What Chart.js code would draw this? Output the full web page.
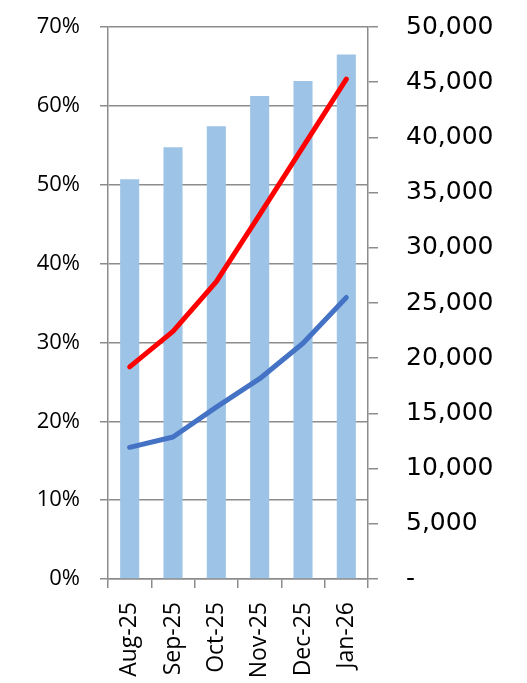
<!DOCTYPE html>
<html>
<head>
<meta charset="utf-8">
<script src="https://cdn.jsdelivr.net/npm/chart.js@4"></script>
<style>
    body { margin: 0; background: #fff; }
    #wrap { width: 527px; height: 683px; }
</style>
</head>
<body>
<div id="wrap"><canvas id="chart"></canvas></div>
<script>
// Datos del gráfico
const months = ['Aug-25', 'Sep-25', 'Oct-25', 'Nov-25', 'Dec-25', 'Jan-26'];
const barValues = [36200, 39100, 41000, 43750, 45100, 47500];
const redPct = [26.9, 31.4, 37.7, 46.2, 54.8, 63.4];
const bluePct = [16.7, 18.0, 21.8, 25.4, 29.9, 35.7];

const leftTicks = [0, 10, 20, 30, 40, 50, 60, 70];
const rightTicks = [0, 5000, 10000, 15000, 20000, 25000, 30000, 35000, 40000, 45000, 50000];

const axisColor = '#8c8c8c';

function formatNumber(value) {
    if (value === 0) return '-';
    return new Intl.NumberFormat('en-US').format(value);
}

// Quitar el relleno automático que añaden las etiquetas
function fixVertical(width) {
    return function(scale) {
        scale.width = width;
        scale.paddingTop = 0;
        scale.paddingBottom = 0;
    };
}

const ctx = document.getElementById('chart');

new Chart(ctx, {
    type: 'bar',
    data: {
        labels: months,
        datasets: [
            {
                type: 'line',
                label: 'Red',
                data: redPct,
                yAxisID: 'y',
                borderColor: '#ff0000',
                borderWidth: 5,
                borderCapStyle: 'round',
                borderJoinStyle: 'round',
                pointRadius: 0,
                tension: 0,
                order: 1
            },
            {
                type: 'line',
                label: 'Blue',
                data: bluePct,
                yAxisID: 'y',
                borderColor: '#4472c4',
                borderWidth: 5,
                borderCapStyle: 'round',
                borderJoinStyle: 'round',
                pointRadius: 0,
                tension: 0,
                order: 2
            },
            {
                label: 'Bars',
                data: barValues,
                yAxisID: 'y1',
                backgroundColor: '#9dc3e6',
                categoryPercentage: 1,
                barPercentage: 0.44,
                order: 3
            }
        ]
    },
    options: {
        responsive: true,
        maintainAspectRatio: false,
        animation: false,
        layout: {
            padding: { top: 27, left: 0, right: 0, bottom: 0 }
        },
        plugins: {
            legend: { display: false },
            tooltip: { enabled: false }
        },
        scales: {
            x: {
                offset: true,
                grid: {
                    offset: true,
                    drawOnChartArea: false,
                    color: axisColor,
                    lineWidth: 1.5,
                    tickLength: 9
                },
                border: { color: axisColor, width: 1.5 },
                ticks: {
                    color: '#000',
                    minRotation: 90,
                    maxRotation: 90,
                    padding: 14,
                    font: { family: 'Open Sans', size: 23 }
                },
                afterFit: function(scale) {
                    scale.height = 104;
                    scale.paddingLeft = 0;
                    scale.paddingRight = 0;
                }
            },
            y: {
                position: 'left',
                min: 0,
                max: 70,
                afterBuildTicks: function(scale) {
                    scale.ticks = leftTicks.map(v => ({ value: v }));
                },
                grid: {
                    color: axisColor,
                    lineWidth: 1.5,
                    tickLength: 8
                },
                border: { color: axisColor, width: 1.5 },
                ticks: {
                    color: '#000',
                    padding: 20,
                    font: { family: 'Open Sans', size: 22 },
                    callback: function(value) { return value + '%'; }
                },
                afterFit: fixVertical(108)
            },
            y1: {
                position: 'right',
                min: 0,
                max: 50000,
                afterBuildTicks: function(scale) {
                    scale.ticks = rightTicks.map(v => ({ value: v }));
                },
                grid: {
                    drawOnChartArea: false,
                    color: axisColor,
                    lineWidth: 1.5,
                    tickLength: 10
                },
                border: { color: axisColor, width: 1.5 },
                ticks: {
                    color: '#000',
                    padding: 28,
                    font: { family: 'DejaVu Sans', size: 25 },
                    callback: function(value) { return formatNumber(value); }
                },
                afterFit: fixVertical(159)
            }
        }
    }
});
</script>
</body>
</html>
